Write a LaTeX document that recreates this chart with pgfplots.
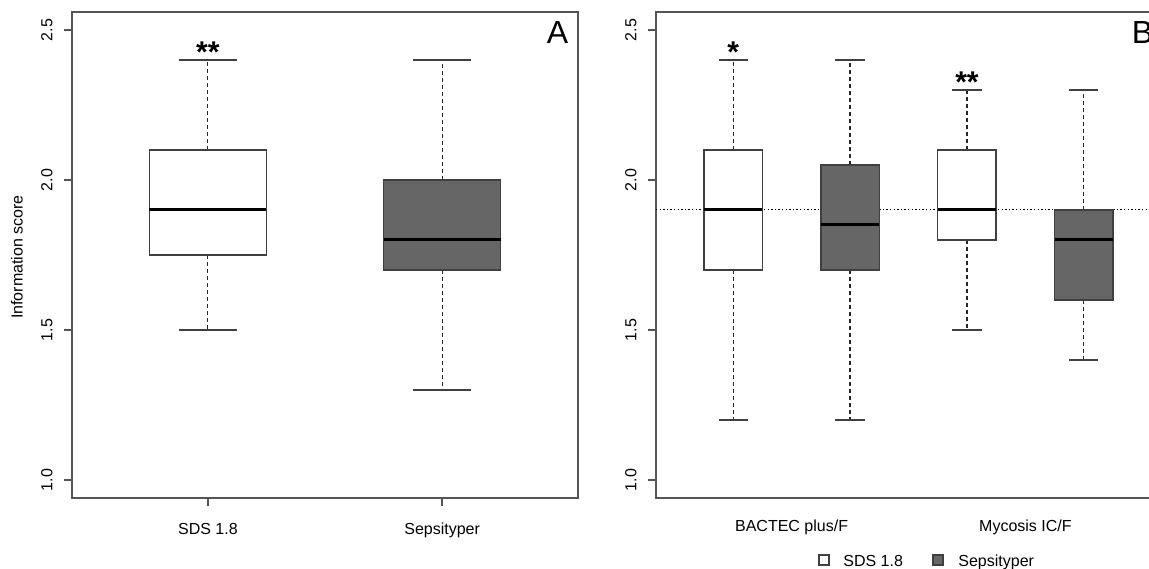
\documentclass[border=0pt]{standalone}
\usepackage{pgfplots}
\pgfplotsset{compat=1.18}
\usepgfplotslibrary{statistics}
\usepackage{fontspec}
\setmainfont{Liberation Sans}
\definecolor{boxgray}{HTML}{666666}
\definecolor{framegray}{HTML}{555555}
\definecolor{edgegray}{HTML}{404040}

\newcommand{\tickfont}{\fontsize{8bp}{9.6bp}\selectfont}

\pgfplotsset{
  rbox/.style={
    boxplot/draw direction=y,
    boxplot/draw/lower whisker/.code={%
      \draw[black!85, line width=0.6bp, dash pattern=on 2bp off 1.5bp]
        (boxplot cs:\pgfplotsboxplotvalue{lower quartile}) -- (boxplot cs:\pgfplotsboxplotvalue{lower whisker});
      \draw[edgegray, line width=0.75bp]
        (boxplot whisker cs:\pgfplotsboxplotvalue{lower whisker},0) -- (boxplot whisker cs:\pgfplotsboxplotvalue{lower whisker},1);
    },
    boxplot/draw/upper whisker/.code={%
      \draw[black!85, line width=0.6bp, dash pattern=on 2bp off 1.5bp]
        (boxplot cs:\pgfplotsboxplotvalue{upper quartile}) -- (boxplot cs:\pgfplotsboxplotvalue{upper whisker});
      \draw[edgegray, line width=0.75bp]
        (boxplot whisker cs:\pgfplotsboxplotvalue{upper whisker},0) -- (boxplot whisker cs:\pgfplotsboxplotvalue{upper whisker},1);
    },
    boxplot/every median/.style={black, line width=1.5bp},
    boxplot/box extend=0.5,
    boxplot/whisker extend=0.25,
  },
  whitebox/.style={rbox, boxplot/every box/.style={draw=edgegray, line width=0.75bp, fill=white}},
  graybox/.style={rbox, boxplot/every box/.style={draw=edgegray, line width=0.75bp, fill=boxgray}},
  rax/.style={
    scale only axis,
    anchor=south west,
    height=243bp,
    ymin=0.94, ymax=2.56,
    ytick={1,1.5,2,2.5},
    yticklabels={1.0,1.5,2.0,2.5},
    ytick pos=left,
    xtick pos=bottom,
    tick align=outside,
    major tick length=4bp,
    axis line style={framegray, line width=0.75bp},
    tick style={framegray, line width=0.75bp},
    yticklabel style={rotate=90, anchor=south, inner sep=0pt, font=\tickfont},
    xticklabel style={anchor=north, inner sep=0pt, font=\tickfont},
    yticklabel shift=5.5bp,
    clip=false,
  },
}

\begin{document}
\begin{tikzpicture}[font=\tickfont]
\useasboundingbox (0,0) rectangle (574.5bp,284.5bp);
\clip (0,0) rectangle (574.5bp,284.5bp);

% Panel A
\begin{axis}[rax,
  at={(36bp,35.5bp)}, width=253bp,
  xmin=0.42, xmax=2.58,
  xtick={1,2}, xticklabels={SDS 1.8, Sepsityper},
  xticklabel shift=8.5bp,
]
\addplot[whitebox, boxplot prepared={draw position=1, lower whisker=1.5, lower quartile=1.75, median=1.9, upper quartile=2.1, upper whisker=2.4}] coordinates {};
\addplot[graybox, boxplot prepared={draw position=2, lower whisker=1.3, lower quartile=1.7, median=1.8, upper quartile=2.0, upper whisker=2.4}] coordinates {};
\node[anchor=base, inner sep=0pt, font=\fontsize{15bp}{18bp}\selectfont\bfseries] at (axis cs:1,2.392) {**};
\node[anchor=base, inner sep=0pt, font=\fontsize{16bp}{19bp}\selectfont] at (axis cs:2.493,2.455) {A};
\end{axis}

% Panel B
\begin{axis}[rax,
  at={(328bp,35.5bp)}, width=252.5bp,
  xmin=0.34, xmax=4.66,
  xtick={1.5,3.5}, xticklabels={BACTEC plus/F, Mycosis IC/F},
  xtick style={draw=none},
  xticklabel shift=7bp,
]
\addplot[black, line width=0.5bp, dash pattern=on 0.7bp off 1.1bp] coordinates {(0.34,1.9) (4.66,1.9)};
\addplot[whitebox, boxplot prepared={draw position=1, lower whisker=1.2, lower quartile=1.7, median=1.9, upper quartile=2.1, upper whisker=2.4}] coordinates {};
\addplot[graybox, boxplot prepared={draw position=2, lower whisker=1.2, lower quartile=1.7, median=1.85, upper quartile=2.05, upper whisker=2.4}] coordinates {};
\addplot[whitebox, boxplot prepared={draw position=3, lower whisker=1.5, lower quartile=1.8, median=1.9, upper quartile=2.1, upper whisker=2.3}] coordinates {};
\addplot[graybox, boxplot prepared={draw position=4, lower whisker=1.4, lower quartile=1.6, median=1.8, upper quartile=1.9, upper whisker=2.3}] coordinates {};
\node[anchor=base, inner sep=0pt, font=\fontsize{15bp}{18bp}\selectfont\bfseries] at (axis cs:1,2.392) {*};
\node[anchor=base, inner sep=0pt, font=\fontsize{15bp}{18bp}\selectfont\bfseries] at (axis cs:3,2.292) {**};
\node[anchor=base, inner sep=0pt, font=\fontsize{16bp}{19bp}\selectfont] at (axis cs:4.502,2.455) {B};
\end{axis}

% y label
\node[rotate=90, inner sep=0pt] at (8.5bp,156bp) {Information score};

% legend
\draw[edgegray, line width=0.6bp, fill=white] (409.5bp,2bp) rectangle (414.5bp,7bp);
\node[anchor=base west, inner sep=0pt] at (421.5bp,1.5bp) {SDS 1.8};
\draw[edgegray, line width=0.6bp, fill=boxgray] (466.5bp,2bp) rectangle (471.5bp,7bp);
\node[anchor=base west, inner sep=0pt] at (479bp,1.5bp) {Sepsityper};
\end{tikzpicture}
\end{document}
